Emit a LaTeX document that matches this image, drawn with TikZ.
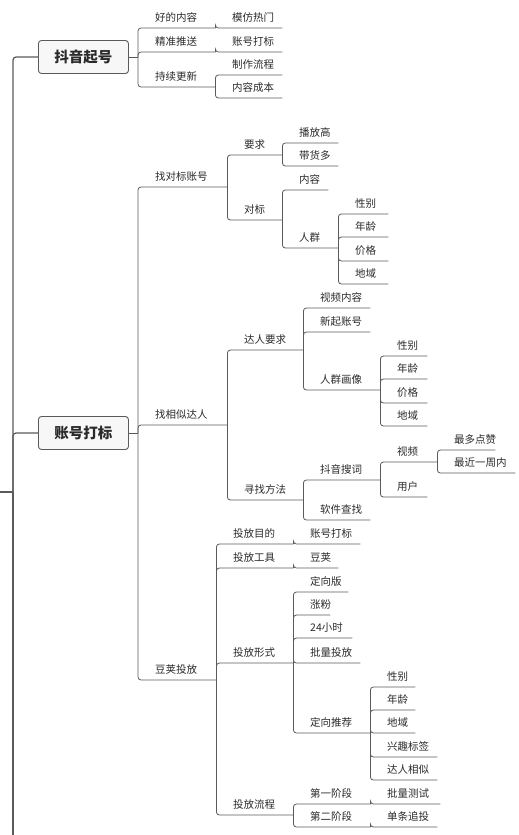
\documentclass[tikz,border=0pt]{standalone}
\usepackage{fontspec}
\setmainfont{Noto Sans CJK SC}
\usepackage{xcolor}
\usepackage{tikz}
\usetikzlibrary{positioning}
\definecolor{linegray}{HTML}{5A5A5A}
\definecolor{boxfill}{HTML}{F7F7F7}
\definecolor{inkgray}{HTML}{2A2A2A}

\begin{document}
\begin{tikzpicture}[x=1pt, y=-1pt, font=\fontsize{10.5pt}{12pt}\selectfont, text=inkgray]
    \tikzstyle{branch} = [rectangle, rounded corners=3pt, draw=linegray, fill=boxfill, line width=0.9pt, minimum width=90pt, minimum height=33pt, anchor=west, font=\fontsize{14.5pt}{16pt}\selectfont\bfseries]
    \tikzstyle{topic} = [anchor=south west, inner xsep=0pt, inner ysep=6pt, text height=8pt, text depth=0pt, align=left]
    \tikzstyle{link} = [draw=linegray, line width=0.8pt, rounded corners=3pt]
    \tikzstyle{trunk} = [link, line width=1.2pt]
    \useasboundingbox (0,0) rectangle (519,835);

    % main branches
    \node (douyin) [branch] at (38,57) {抖音起号};
    \node (zhanghao) [branch] at (38,433) {账号打标};
    \coordinate (rootin) at (0,492);
    \coordinate (root) at (13,492);
    \coordinate (rootout) at (13,840);
    \coordinate (j1) at (138,57);
    \coordinate (j2) at (138,433);

    % 抖音起号
    \node (hao) [topic, text width=60pt] at (155,28) {好的内容};
    \node (mofang) [topic, text width=50pt] at (232,28) {模仿热门};
    \node (jingzhun) [topic, text width=60pt] at (155,52) {精准推送};
    \node (dabiaoa) [topic, text width=50pt] at (232,52) {账号打标};
    \node (chixu) [topic, text width=60pt] at (155,87) {持续更新};
    \node (zhizuo) [topic, text width=50pt] at (232,75) {制作流程};
    \node (chengben) [topic, text width=50pt] at (232,98) {内容成本};

    % 账号打标
    \node (zhaodb) [topic, text width=72pt] at (155,187) {找对标账号};
    \node (yaoqiu) [topic, text width=38pt] at (244,155) {要求};
    \node (bofang) [topic, text width=39pt] at (299,143) {播放高};
    \node (daihuo) [topic, text width=39pt] at (299,166) {带货多};
    \node (duibiao) [topic, text width=38pt] at (244,220) {对标};
    \node (neirong) [topic, text width=29pt] at (299,190) {内容};
    \node (renqun) [topic, text width=39pt] at (299,248) {人群};
    \node (xba) [topic, text width=33pt] at (355,214) {性别};
    \node (nla) [topic, text width=33pt] at (355,237) {年龄};
    \node (jga) [topic, text width=33pt] at (355,261) {价格};
    \node (dya) [topic, text width=33pt] at (355,284) {地域};

    \node (zhaoxs) [topic, text width=72pt] at (155,425) {找相似达人};
    \node (darenyq) [topic, text width=59pt] at (244,350) {达人要求};
    \node (shipinnr) [topic, text width=50pt] at (320,308) {视频内容};
    \node (xinqi) [topic, text width=50pt] at (320,332) {新起账号};
    \node (huaxiang) [topic, text width=60pt] at (320,390) {人群画像};
    \node (xbb) [topic, text width=30pt] at (397,356) {性别};
    \node (nlb) [topic, text width=30pt] at (397,379) {年龄};
    \node (jgb) [topic, text width=30pt] at (397,403) {价格};
    \node (dyb) [topic, text width=30pt] at (397,426) {地域};
    \node (xunzhao) [topic, text width=59pt] at (244,500) {寻找方法};
    \node (souci) [topic, text width=60pt] at (320,480) {抖音搜词};
    \node (shipin) [topic, text width=40pt] at (397,462) {视频};
    \node (zuiduo) [topic, text width=41pt] at (454,450) {最多点赞};
    \node (zuijin) [topic, text width=61pt] at (454,473) {最近一周内};
    \node (yonghu) [topic, text width=30pt] at (397,497) {用户};
    \node (ruanjian) [topic, text width=50pt] at (320,520) {软件查找};

    \node (doujia) [topic, text width=61pt] at (155,680) {豆荚投放};
    \node (mudi) [topic, text width=60pt] at (233,544) {投放目的};
    \node (dabiaob) [topic, text width=50pt] at (310,544) {账号打标};
    \node (gongju) [topic, text width=60pt] at (233,568) {投放工具};
    \node (doujiab) [topic, text width=28pt] at (310,568) {豆荚};
    \node (xingshi) [topic, text width=60pt] at (233,663) {投放形式};
    \node (dingxiang) [topic, text width=38pt] at (310,592) {定向版};
    \node (zhangfen) [topic, text width=20pt] at (310,615) {涨粉};
    \node (xiaoshi) [topic, text width=42pt] at (310,638) {24小时};
    \node (piliang) [topic, text width=50pt] at (310,663) {批量投放};
    \node (tuijian) [topic, text width=60pt] at (310,733) {定向推荐};
    \node (xbc) [topic, text width=28pt] at (387,687) {性别};
    \node (nlc) [topic, text width=28pt] at (387,710) {年龄};
    \node (dyc) [topic, text width=28pt] at (387,733) {地域};
    \node (xingqu) [topic, text width=50pt] at (387,757) {兴趣标签};
    \node (xiangsi) [topic, text width=50pt] at (387,780) {达人相似};
    \node (liucheng) [topic, text width=60pt] at (233,815) {投放流程};
    \node (jda) [topic, text width=60pt] at (310,804) {第一阶段};
    \node (ceshi) [topic, text width=53pt] at (387,804) {批量测试};
    \node (jdb) [topic, text width=60pt] at (310,827) {第二阶段};
    \node (zhuitou) [topic, text width=50pt] at (387,827) {单条追投};

    % trunk
    \draw [trunk] (rootin) -- (root);
    \draw [trunk] (root) |- (douyin.west);
    \draw [trunk] (root) |- (zhanghao.west);
    \draw [trunk] (root) -- (rootout);
    \draw [link] (douyin.east) -- (j1);
    \draw [link] (zhanghao.east) -- (j2);

    \draw [link] (j1) |- (hao.south east);
    \draw [link] (j1) |- (jingzhun.south east);
    \draw [link] (j1) |- (chixu.south east);
    \draw [link] (hao.south east) |- (mofang.south east);
    \draw [link] (jingzhun.south east) |- (dabiaoa.south east);
    \draw [link] (chixu.south east) |- (zhizuo.south east);
    \draw [link] (chixu.south east) |- (chengben.south east);

    \draw [link] (j2) |- (zhaodb.south east);
    \draw [link] (j2) |- (zhaoxs.south east);
    \draw [link] (j2) |- (doujia.south east);

    \draw [link] (zhaodb.south east) |- (yaoqiu.south east);
    \draw [link] (zhaodb.south east) |- (duibiao.south east);
    \draw [link] (yaoqiu.south east) |- (bofang.south east);
    \draw [link] (yaoqiu.south east) |- (daihuo.south east);
    \draw [link] (duibiao.south east) |- (neirong.south east);
    \draw [link] (duibiao.south east) |- (renqun.south east);
    \draw [link] (renqun.south east) |- (xba.south east);
    \draw [link] (renqun.south east) |- (nla.south east);
    \draw [link] (renqun.south east) |- (jga.south east);
    \draw [link] (renqun.south east) |- (dya.south east);

    \draw [link] (zhaoxs.south east) |- (darenyq.south east);
    \draw [link] (zhaoxs.south east) |- (xunzhao.south east);
    \draw [link] (darenyq.south east) |- (shipinnr.south east);
    \draw [link] (darenyq.south east) |- (xinqi.south east);
    \draw [link] (darenyq.south east) |- (huaxiang.south east);
    \draw [link] (huaxiang.south east) |- (xbb.south east);
    \draw [link] (huaxiang.south east) |- (nlb.south east);
    \draw [link] (huaxiang.south east) |- (jgb.south east);
    \draw [link] (huaxiang.south east) |- (dyb.south east);
    \draw [link] (xunzhao.south east) |- (souci.south east);
    \draw [link] (xunzhao.south east) |- (ruanjian.south east);
    \draw [link] (souci.south east) |- (shipin.south east);
    \draw [link] (souci.south east) |- (yonghu.south east);
    \draw [link] (shipin.south east) |- (zuiduo.south east);
    \draw [link] (shipin.south east) |- (zuijin.south east);

    \draw [link] (doujia.south east) |- (mudi.south east);
    \draw [link] (doujia.south east) |- (gongju.south east);
    \draw [link] (doujia.south east) |- (xingshi.south east);
    \draw [link] (doujia.south east) |- (liucheng.south east);
    \draw [link] (mudi.south east) |- (dabiaob.south east);
    \draw [link] (gongju.south east) |- (doujiab.south east);
    \draw [link] (xingshi.south east) |- (dingxiang.south east);
    \draw [link] (xingshi.south east) |- (zhangfen.south east);
    \draw [link] (xingshi.south east) |- (xiaoshi.south east);
    \draw [link] (xingshi.south east) |- (piliang.south east);
    \draw [link] (xingshi.south east) |- (tuijian.south east);
    \draw [link] (tuijian.south east) |- (xbc.south east);
    \draw [link] (tuijian.south east) |- (nlc.south east);
    \draw [link] (tuijian.south east) |- (dyc.south east);
    \draw [link] (tuijian.south east) |- (xingqu.south east);
    \draw [link] (tuijian.south east) |- (xiangsi.south east);
    \draw [link] (liucheng.south east) |- (jda.south east);
    \draw [link] (liucheng.south east) |- (jdb.south east);
    \draw [link] (jda.south east) |- (ceshi.south east);
    \draw [link] (jdb.south east) |- (zhuitou.south east);
\end{tikzpicture}
\end{document}
